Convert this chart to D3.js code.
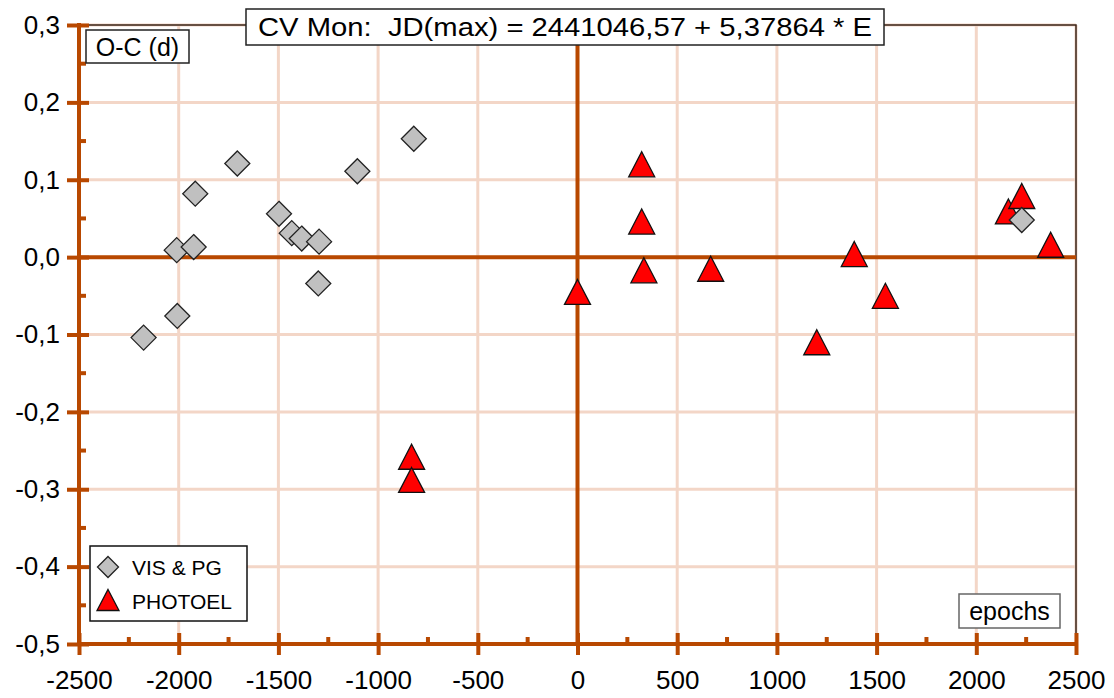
<!DOCTYPE html>
<html lang="en">
<head>
    <meta charset="UTF-8">
    <title>CV Mon O-C</title>
    <script src="https://d3js.org/d3.v7.min.js"></script>
</head>
<style>
    html,body {
        margin: 0;
        padding: 0;
        background: #fff;
    }
    text {
        font-family: "Liberation Sans", Arial, sans-serif;
    }
</style>
<body>
    <div id="svg"></div>
</body>
<script>
    // VIS & PG (diamonds)
    const visE  = [-2176, -2007, -2010, -1925, -1917, -1706, -1497, -1433, -1383, -1296, -1300, -1104, -821, 2228];
    const visOC = [-0.104, -0.076, 0.009, 0.013, 0.082, 0.121, 0.056, 0.031, 0.024, 0.020, -0.034, 0.111, 0.153, 0.048];
    // PHOTOEL (triangles)
    const phE  = [-832, -832, 0, 322, 322, 333, 668, 1200, 1388, 1544, 2161, 2228, 2373];
    const phOC = [-0.258, -0.288, -0.045, 0.120, 0.046, -0.017, -0.015, -0.110, 0.004, -0.050, 0.059, 0.079, 0.016];

    const xTicks = [-2500, -2000, -1500, -1000, -500, 0, 500, 1000, 1500, 2000, 2500];
    const yTicks = [-0.5, -0.4, -0.3, -0.2, -0.1, 0, 0.1, 0.2, 0.3];

    const width = 1114;
    const height = 698;
    const axisColor = '#b84800';
    const gridColor = '#f3d6c7';

    const svg = d3.select('#svg').append('svg')
        .attr('width', width)
        .attr('height', height);

    const x = d3.scaleLinear().domain([-2500, 2500]).range([79, 1076]);
    const y = d3.scaleLinear().domain([-0.5, 0.3]).range([644, 25]);

    const loc = d3.formatLocale({decimal: ',', thousands: '', grouping: [3], currency: ['', ''], minus: '-'});
    const fy = loc.format('.1f');
    const fx = loc.format('d');

    // grid
    svg.append('g').selectAll('line').data(xTicks.slice(1)).enter().append('line')
        .attr('x1', d => x(d)).attr('x2', d => x(d))
        .attr('y1', y(0.3)).attr('y2', y(-0.5))
        .attr('stroke', gridColor).attr('stroke-width', 3);
    svg.append('g').selectAll('line').data(yTicks.slice(1)).enter().append('line')
        .attr('x1', x(-2500)).attr('x2', x(2500))
        .attr('y1', d => y(d)).attr('y2', d => y(d))
        .attr('stroke', gridColor).attr('stroke-width', 3);

    // frame top and right
    svg.append('path')
        .attr('d', `M${x(-2500)},${y(0.3)}H${x(2500)}V${y(-0.5)}`)
        .attr('fill', 'none').attr('stroke', '#3a2418').attr('stroke-width', 1.5);

    // zero lines
    svg.append('line').attr('x1', x(-2500)).attr('x2', x(2500)).attr('y1', y(0)).attr('y2', y(0))
        .attr('stroke', axisColor).attr('stroke-width', 4);
    svg.append('line').attr('x1', x(0)).attr('x2', x(0)).attr('y1', y(0.3)).attr('y2', y(-0.5))
        .attr('stroke', axisColor).attr('stroke-width', 4);

    // y axis
    const yAxis = d3.axisLeft(y).tickValues(yTicks).tickSize(12).tickPadding(8).tickFormat(fy);
    const gy = svg.append('g').attr('transform', `translate(${x(-2500)},0)`).call(yAxis);
    gy.select('.domain').attr('stroke', axisColor).attr('stroke-width', 4)
        .attr('d', `M0,${y(0.3) - 2}V${y(-0.5) + 2}`);
    gy.selectAll('.tick line').attr('stroke', axisColor).attr('stroke-width', 4).attr('x2', 10).attr('x1', -12);
    gy.selectAll('.tick text').attr('font-size', 26).attr('fill', '#000').attr('x', -19);
    gy.selectAll('.minor').data(d3.range(-0.45, 0.3, 0.1)).enter().append('line')
        .attr('x1', 0).attr('x2', 7).attr('y1', d => y(d)).attr('y2', d => y(d))
        .attr('stroke', axisColor).attr('stroke-width', 4);

    // x axis
    const xAxis = d3.axisBottom(x).tickValues(xTicks).tickSize(11).tickPadding(16).tickFormat(fx);
    const gx = svg.append('g').attr('transform', `translate(0,${y(-0.5)})`).call(xAxis);
    gx.select('.domain').attr('stroke', axisColor).attr('stroke-width', 4)
        .attr('d', `M${x(-2500) - 2},0H${x(2500) + 2}`);
    gx.selectAll('.tick line').attr('stroke', axisColor).attr('stroke-width', 4).attr('y1', -11).attr('y2', 11);
    gx.selectAll('.tick text').attr('font-size', 26).attr('fill', '#000');
    gx.selectAll('.minor').data(d3.range(-2250, 2500, 500)).enter().append('line')
        .attr('x1', d => x(d)).attr('x2', d => x(d)).attr('y1', 0).attr('y2', -7)
        .attr('stroke', axisColor).attr('stroke-width', 4);

    // markers
    const tri = 'M0,-12.5L13,12.5L-13,12.5Z';
    const dia = 'M0,-12.5L12.5,0L0,12.5L-12.5,0Z';
    svg.append('g').selectAll('path').data(phE).enter().append('path')
        .attr('d', tri)
        .attr('transform', (d, i) => `translate(${x(d)},${y(phOC[i])})`)
        .attr('fill', '#ff0000').attr('stroke', '#111').attr('stroke-width', 1.3);
    svg.append('g').selectAll('path').data(visE).enter().append('path')
        .attr('d', dia)
        .attr('transform', (d, i) => `translate(${x(d)},${y(visOC[i])})`)
        .attr('fill', '#c0c0c0').attr('stroke', '#222').attr('stroke-width', 1.3);

    // labelled boxes
    function box(x0, y0, w, h, txt, size, stroke) {
        svg.append('rect').attr('x', x0).attr('y', y0).attr('width', w).attr('height', h)
            .attr('fill', '#fff').attr('stroke', stroke).attr('stroke-width', 1.5);
        return svg.append('text').attr('x', x0 + w / 2).attr('y', y0 + h / 2)
            .attr('text-anchor', 'middle').attr('dominant-baseline', 'central')
            .attr('font-size', size).attr('fill', '#000').text(txt);
    }
    box(246, 9, 638, 36, 'CV Mon:  JD(max) = 2441046,57 + 5,37864 * E', 26, '#222')
        .attr('textLength', 614).attr('lengthAdjust', 'spacingAndGlyphs').style('white-space', 'pre');
    box(86, 30, 103, 33, 'O-C (d)', 25, '#222');
    box(959, 594, 101, 34, 'epochs', 25, '#666');

    // legend
    svg.append('rect').attr('x', 90).attr('y', 546).attr('width', 157).attr('height', 75)
        .attr('fill', '#fff').attr('stroke', '#111').attr('stroke-width', 1.5);
    svg.append('path').attr('d', 'M0,-10.5L10.5,0L0,10.5L-10.5,0Z').attr('transform', 'translate(108,567)')
        .attr('fill', '#c0c0c0').attr('stroke', '#222').attr('stroke-width', 1.3);
    svg.append('path').attr('d', 'M0,-10.5L11,10.5L-11,10.5Z').attr('transform', 'translate(108,600)')
        .attr('fill', '#ff0000').attr('stroke', '#111').attr('stroke-width', 1.3);
    svg.append('text').attr('x', 132).attr('y', 567).attr('dominant-baseline', 'central')
        .attr('font-size', 21).text('VIS & PG');
    svg.append('text').attr('x', 132).attr('y', 601).attr('dominant-baseline', 'central')
        .attr('font-size', 21).text('PHOTOEL');
</script>
</html>
